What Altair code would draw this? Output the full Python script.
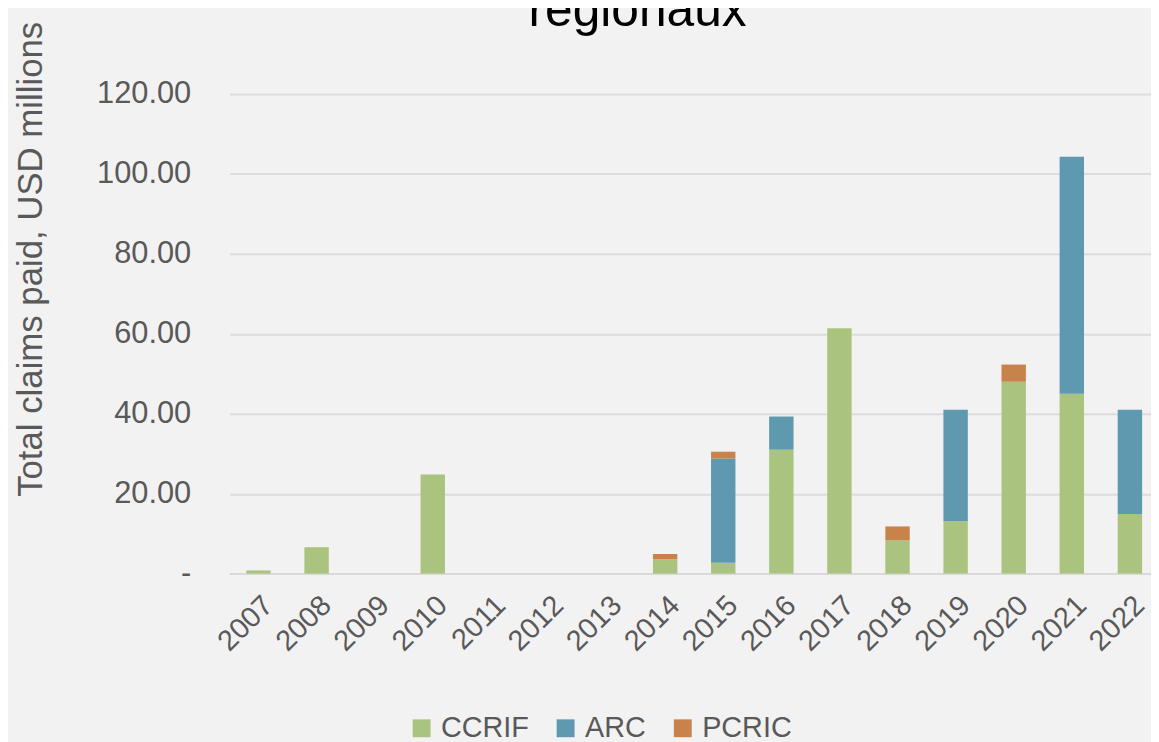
import altair as alt
import pandas as pd

years = [str(y) for y in range(2007, 2023)]
ccrif = [0.8, 6.6, 0, 24.8, 0, 0, 0, 3.6, 2.7, 31.0, 61.4, 8.3, 13.1, 48.0, 45.0, 14.9]
arc = [0, 0, 0, 0, 0, 0, 0, 0, 26.1, 8.3, 0, 0, 27.9, 0, 59.3, 26.1]
pcric = [0, 0, 0, 0, 0, 0, 0, 1.3, 1.7, 0, 0, 3.5, 0, 4.3, 0, 0]
series = ["CCRIF", "ARC", "PCRIC"]
colors = ["#aac47f", "#5e99b0", "#c8834b"]
y_ticks = [0, 20, 40, 60, 80, 100, 120]

rows = []
for i, yr in enumerate(years):
    for k, (name, vals) in enumerate(zip(series, [ccrif, arc, pcric])):
        rows.append({"year": yr, "series": name, "value": vals[i], "order": k})
df = pd.DataFrame(rows)

FONT = "Liberation Sans"
GRAY = "#595959"

chart = alt.Chart(df).mark_bar().encode(
    x=alt.X("year:N", sort=years,
            scale=alt.Scale(paddingInner=0.58, paddingOuter=0.29),
            axis=alt.Axis(title=None, labelAngle=-45, labelFontSize=29, labelFont=FONT,
                          labelColor=GRAY, ticks=False, labelPadding=17,
                          domainColor="#d9d9d9", domainWidth=2, grid=False)),
    y=alt.Y("value:Q", stack="zero",
            scale=alt.Scale(domain=[0, 120], nice=False),
            axis=alt.Axis(title="Total claims paid, USD millions", values=y_ticks,
                          labelExpr="datum.value == 0 ? '-\u00a0' : format(datum.value, '.2f')",
                          labelFontSize=31, labelFont=FONT, labelColor=GRAY, labelPadding=39,
                          ticks=False, domain=False, grid=True, gridColor="#dcdcdc", gridWidth=2,
                          titleFont=FONT, titleFontSize=35, titleColor=GRAY, titleFontWeight="normal",
                          titleAngle=270, titleX=-200, titleY=166, titleAlign="center",
                          titleBaseline="middle")),
    color=alt.Color("series:N", sort=series,
                    scale=alt.Scale(domain=series, range=colors),
                    legend=alt.Legend(title=None, orient="none", direction="horizontal",
                                      legendX=179, legendY=624, symbolType="square",
                                      symbolSize=324, symbolStrokeWidth=0, symbolOpacity=1,
                                      labelFont=FONT, labelFontSize=29, labelColor=GRAY,
                                      labelOffset=5, columnPadding=22, padding=0)),
    order=alt.Order("order:Q"),
).properties(
    width=936,
    height=483,
    background="#f2f2f2",
    padding={"left": 223, "top": 84, "right": -8, "bottom": 167},
    autosize=alt.AutoSizeParams(type="none"),
    title=alt.TitleParams(text="regionaux", font=FONT, fontSize=50, fontWeight="normal",
                          color="#000000", anchor="middle", dx=-57, dy=45, offset=-10,
                          baseline="alphabetic"),
).configure_view(stroke=None)

chart.save("out.html", embed_options={"renderer": "svg", "actions": False})
